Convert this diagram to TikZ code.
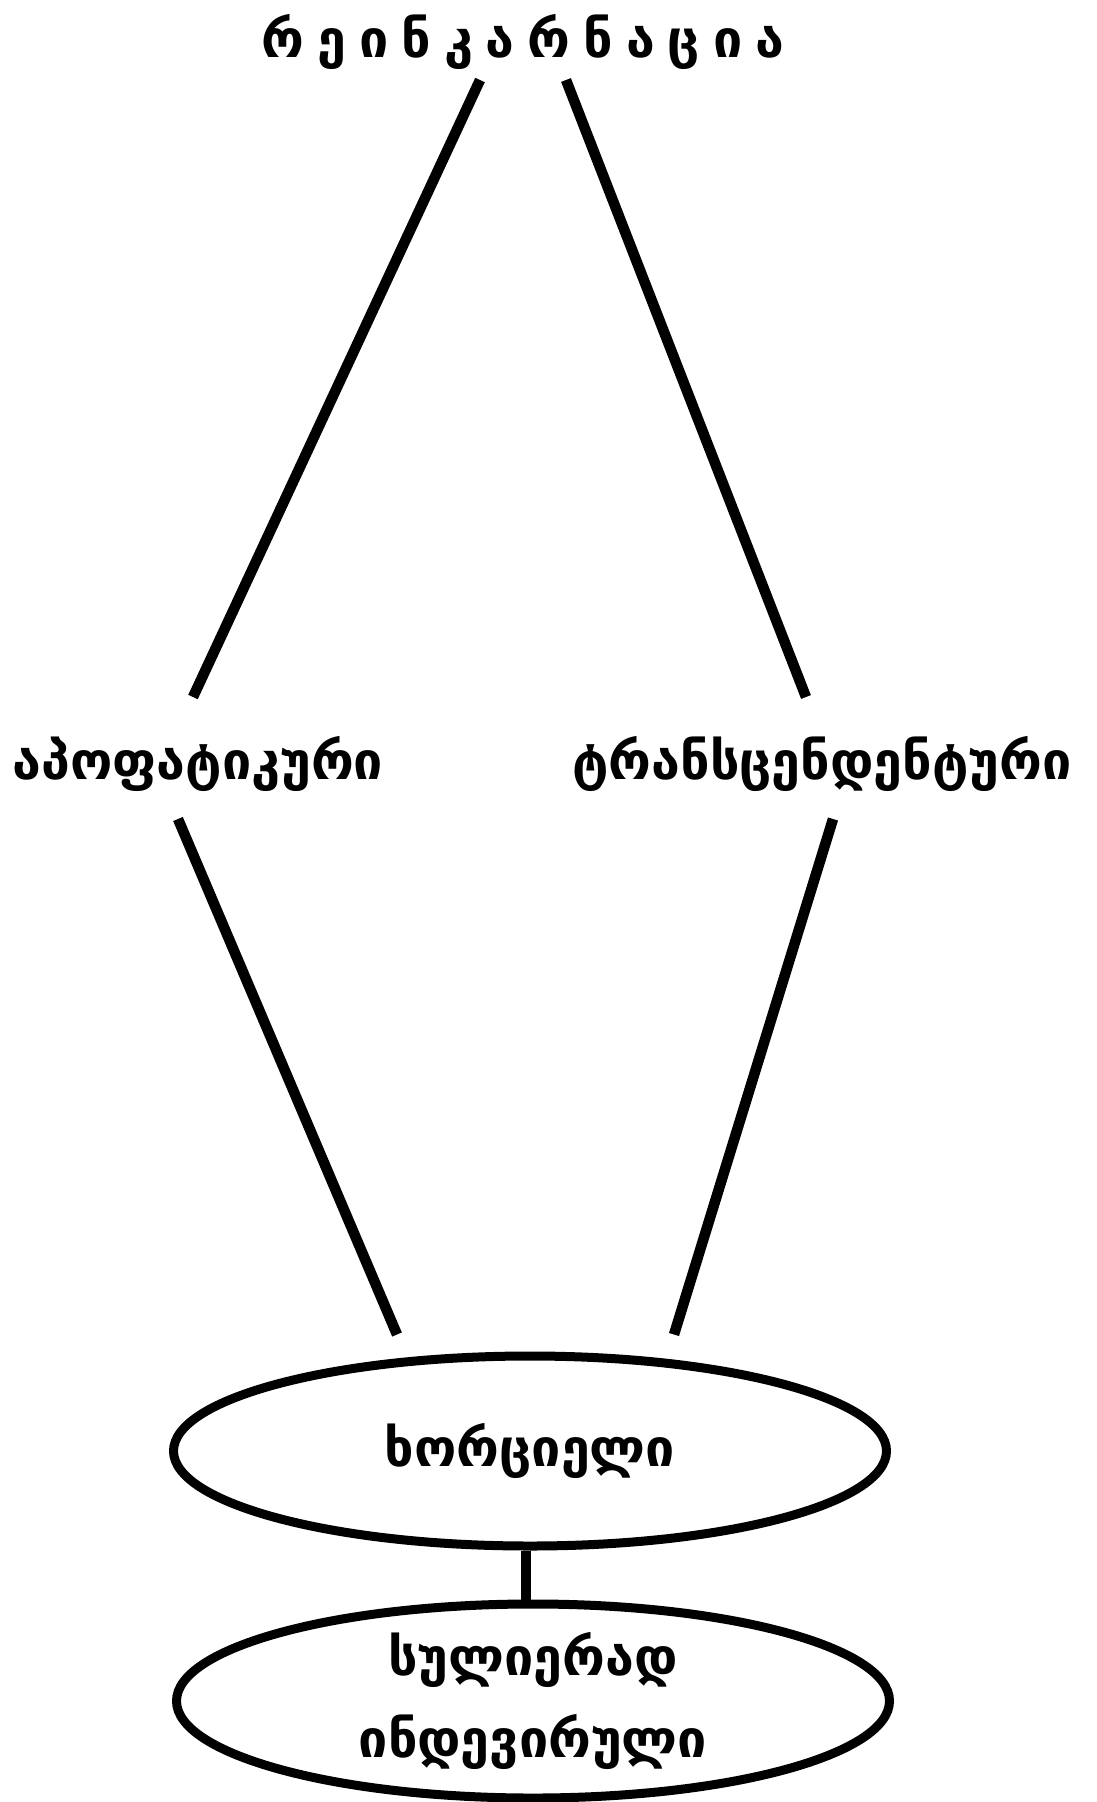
\documentclass[tikz,border=0pt]{standalone}
\usepackage{fontspec}
\setmainfont{DejaVu Sans}
\usetikzlibrary{shapes,calc}
\tikzstyle{word} = [inner sep=0pt, font=\fontsize{52}{82}\selectfont\bfseries]
\tikzstyle{oval} = [ellipse, draw, line width=9pt, inner sep=0pt,
    minimum width=713pt, minimum height=190pt, align=center,
    font=\fontsize{52}{82}\selectfont\bfseries]
\tikzstyle{line} = [draw, line width=10.5pt]

\begin{document}
\begin{tikzpicture}[x=1pt, y=-1pt]
    \useasboundingbox (0,0) rectangle (1096,1802);
    % Place nodes
    \node [word] (title) at (523,42) {რ\hspace{0.25em}ე\hspace{0.25em}ი\hspace{0.25em}ნ\hspace{0.25em}კ\hspace{0.25em}ა\hspace{0.25em}რ\hspace{0.25em}ნ\hspace{0.25em}ა\hspace{0.25em}ც\hspace{0.25em}ი\hspace{0.25em}ა};
    \node [word] (apo) at (198,764) {აპოფატიკური};
    \node [word] (trans) at (822,764) {ტრანსცენდენტური};
    \node [oval] (body) at (530,1451) {ხორციელი};
    \node [oval] (soul) at (533,1701) {\raisebox{-8pt}{სულიერად}\\\raisebox{-8pt}{ინდევირული}};

    % Draw edges
    \path [line] ($(title.center)+(-43,38)$) -- ($(apo.center)+(-5,-67)$);
    \path [line] ($(title.center)+(43,38)$) -- ($(trans.center)+(-16,-67)$);
    \path [line] ($(apo.center)+(-20,55)$) -- ($(body.north)+(-133,-17)$);
    \path [line] ($(trans.center)+(11,55)$) -- ($(body.north)+(144,-17)$);
    \path [line] ([xshift=-4pt]body.south) -- ([xshift=-4pt]body.south |- soul.north);
\end{tikzpicture}
\end{document}
